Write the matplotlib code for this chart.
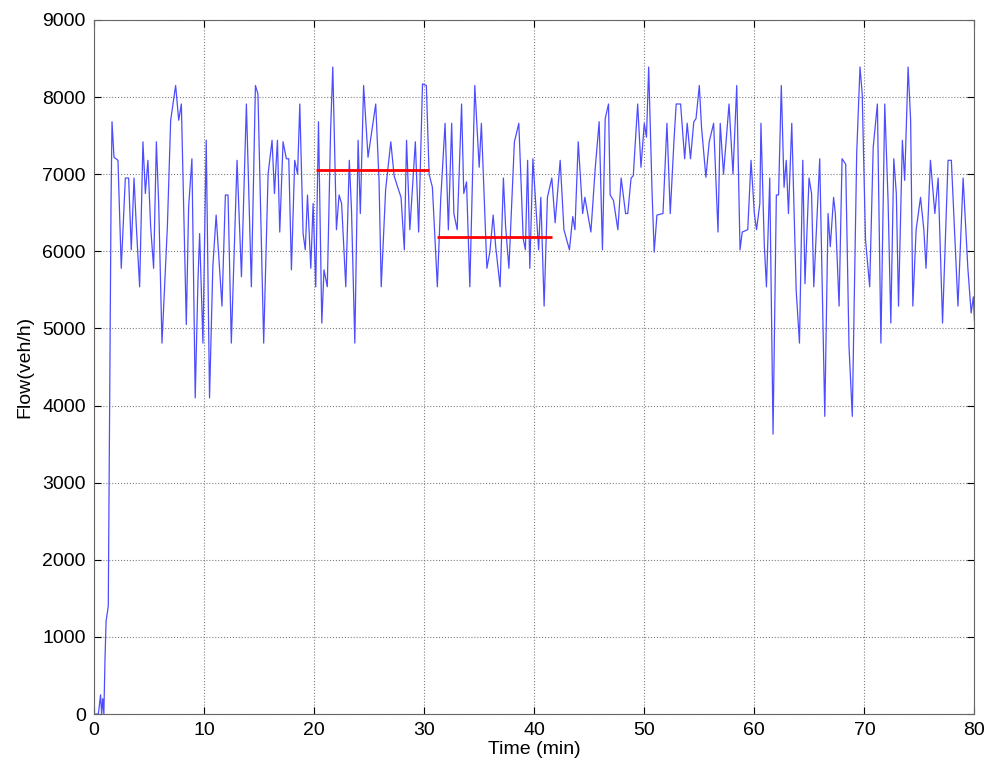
import matplotlib
matplotlib.use("Agg")
import matplotlib.pyplot as plt

plt.rcParams['font.family'] = ['Liberation Sans', 'DejaVu Sans']

# flow trace (peaks / troughs)
time_min = [0.0, 0.4, 0.6, 0.7, 0.8, 0.9, 1.0, 1.1, 1.3, 1.45, 1.55, 1.64, 1.82, 2.18, 2.48, 2.85, 3.15,
            3.39, 3.64, 3.85, 4.15, 4.45, 4.67, 4.9, 5.15, 5.42, 5.67, 5.88, 6.18, 6.67, 6.97,
            7.42, 7.7, 7.94, 8.39, 8.6, 8.9, 9.2, 9.45, 9.6, 9.9, 10.2, 10.5, 10.8, 11.1,
            11.63, 11.94, 12.18, 12.48, 13.0, 13.4, 13.85, 14.3, 14.67, 14.9, 15.42, 15.82,
            16.18, 16.4, 16.67, 16.88, 17.18, 17.48, 17.7, 17.94, 18.24, 18.5, 18.7, 19.0,
            19.2, 19.4, 19.7, 19.91, 20.15, 20.4, 20.7, 20.9, 21.2, 21.5, 21.7, 22.03, 22.27,
            22.5, 22.88, 23.2, 23.4, 23.7, 24.0, 24.2, 24.5, 24.9, 25.6, 25.9, 26.1, 26.5,
            26.97, 27.27, 27.6, 27.9, 28.2, 28.4, 28.7, 29.2, 29.5, 29.85, 30.2, 30.45, 30.75,
            31.2, 31.5, 31.9, 32.2, 32.5, 32.7, 33.0, 33.4, 33.6, 33.85, 34.15, 34.6, 35.0,
            35.2, 35.7, 35.97, 36.27, 36.5, 36.9, 37.2, 37.4, 37.7, 38.2, 38.6, 39.0, 39.2,
            39.4, 39.6, 39.88, 40.18, 40.4, 40.6, 40.9, 41.2, 41.6, 41.9, 42.36, 42.7, 43.2,
            43.5, 43.7, 44.0, 44.4, 44.6, 45.15, 45.55, 45.9, 46.2, 46.45, 46.75, 46.9, 47.2,
            47.6, 47.9, 48.3, 48.5, 48.8, 49.0, 49.4, 49.7, 50.0, 50.2, 50.4, 50.7, 50.9,
            51.15, 51.7, 52.06, 52.36, 52.7, 52.9, 53.3, 53.67, 53.9, 54.2, 54.5, 54.7, 55.0,
            55.2, 55.6, 55.9, 56.3, 56.7, 56.9, 57.2, 57.7, 58.06, 58.4, 58.7, 58.9, 59.4,
            59.7, 60.0, 60.2, 60.5, 60.6, 60.9, 61.1, 61.4, 61.7, 62.0, 62.2, 62.45, 62.7,
            62.9, 63.1, 63.4, 63.8, 64.1, 64.4, 64.6, 64.97, 65.2, 65.4, 65.94, 66.4, 66.7,
            66.9, 67.2, 67.36, 67.7, 67.97, 68.3, 68.6, 68.9, 69.3, 69.6, 69.8, 70.1, 70.48,
            70.8, 71.18, 71.5, 71.85, 72.15, 72.4, 72.67, 72.9, 73.1, 73.45, 73.66, 73.97,
            74.2, 74.4, 74.7, 75.1, 75.4, 75.6, 76.0, 76.4, 76.7, 77.1, 77.6, 77.9, 78.5,
            78.97, 79.4, 79.7, 79.9, 80.0]
flow_vph = [0, 0, 250, 0, 200, 0, 700, 1200, 1400, 4550, 6620, 7680, 7220, 7180, 5780, 6950, 6950,
            6020, 6950, 6320, 5540, 7420, 6750, 7180, 6320, 5780, 7420, 6620, 4810, 6320, 7700,
            8150, 7700, 7910, 5050, 6570, 7200, 4100, 5630, 6230, 4810, 7440, 4100, 5800, 6470,
            5290, 6730, 6730, 4810, 7180, 5670, 7910, 5540, 8150, 8040, 4810, 7000,
            7440, 6750, 7440, 6250, 7420, 7200, 7200, 5760, 7180, 7000, 7910, 6230,
            6020, 6730, 5780, 6620, 5540, 7680, 5070, 5760, 5540, 7570, 8390, 6280, 6730,
            6620, 5540, 7180, 6530, 4810, 7440, 6490, 8150, 7220, 7910, 6920, 5540, 6800,
            7420, 6980, 6830, 6700, 6020, 7440, 6280, 7420, 6250, 8170, 8150, 7000, 6830,
            5540, 6660, 7660, 6280, 7660, 6490, 6280, 7910, 6750, 6900, 5540, 8150, 7090,
            7660, 5780, 5990, 6470, 6060, 5540, 6950, 6320, 5780, 7420, 7660, 6160, 6020,
            7180, 5780, 7200, 6530, 6020, 6700, 5290, 6700, 6950, 6370, 7180, 6280, 6020,
            6450, 6280, 7420, 6490, 6700, 6250, 7090, 7680, 6020, 7720, 7910, 6730, 6660,
            6280, 6950, 6490, 6490, 6950, 6980, 7910, 7090, 7660, 7480, 8390, 6800, 5990,
            6470, 6490, 7660, 6490, 7440, 7910, 7910, 7200, 7660, 7200, 7680, 7720, 8150,
            7610, 6960, 7420, 7660, 6250, 7660, 7000, 7910, 7000, 8150, 6020, 6250, 6280,
            7180, 6490, 6280, 6620, 7660, 6100, 5540, 6950, 3630, 6730, 6730, 8150, 6830,
            7180, 6490, 7660, 5500, 4810, 7180, 5580, 6950, 6750, 5540, 7200, 3860, 6490,
            6060, 6700, 6490, 5290, 7200, 7130, 4770, 3860, 7270, 8390, 8040, 6150, 5540,
            7350, 7910, 4810, 7910, 6660, 5070, 7200, 6750, 5290, 7440, 6920, 8390,
            7700, 5290, 6280, 6700, 6280, 5780, 7180, 6490, 6950, 5070, 7180, 7180, 5290,
            6950, 5780, 5200, 5410, 5100]

# mean-flow segments (red)
seg_start = [20.2, 31.2]
seg_end = [30.4, 41.6]
seg_level = [7050, 6180]

fig = plt.figure(figsize=(9.86, 7.67), dpi=100)
ax = fig.add_axes([0.0953, 0.069, 0.893, 0.905])

ax.plot(time_min, flow_vph, color=(0.3, 0.3, 1.0), lw=0.9)
ax.hlines(seg_level, seg_start, seg_end, colors='red', lw=2)

ax.set_xlim(0, 80)
ax.set_ylim(0, 9000)
ax.set_xticks(range(0, 81, 10))
ax.set_yticks(range(0, 9001, 1000))
ax.grid(True, linestyle=':', color='0.5', lw=0.8)
ax.tick_params(direction='in', top=True, right=True, labelsize=14, length=5, pad=6)
for s in ax.spines.values():
    s.set_color('0.4')
ax.set_xlabel('Time (min)', fontsize=14, labelpad=1)
ax.set_ylabel('Flow(veh/h)', fontsize=14, labelpad=6)

fig.savefig('out.png', dpi=100)
